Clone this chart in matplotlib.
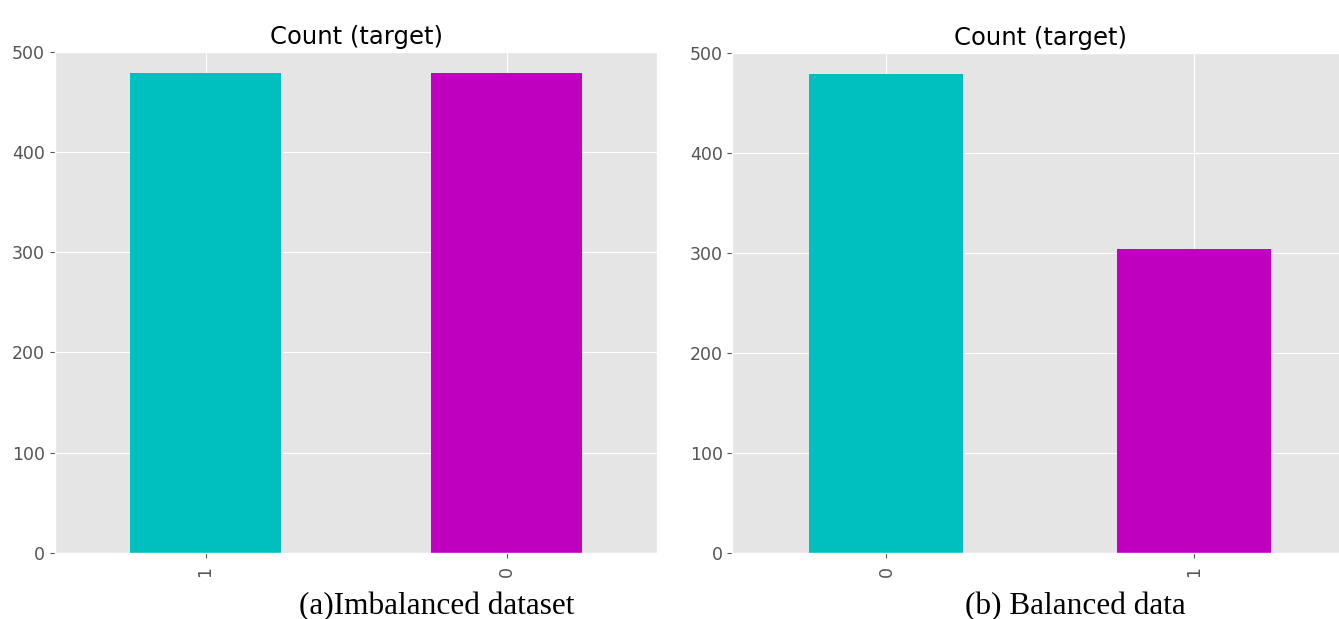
import matplotlib.pyplot as plt

plt.style.use("ggplot")

# left panel: "(a)Imbalanced dataset"
labels_a = ["1", "0"]
counts_a = [479, 479]

# right panel: "(b) Balanced data"
labels_b = ["0", "1"]
counts_b = [479, 304]

bar_colors = ["c", "m"]
yticks = [0, 100, 200, 300, 400, 500]


def draw(ax, labels, counts):
    ax.bar(range(len(labels)), counts, width=0.5, color=bar_colors)
    ax.set_xlim(-0.5, len(labels) - 0.5)
    ax.set_ylim(0, 500)
    ax.set_xticks(range(len(labels)))
    ax.set_xticklabels(labels, rotation=90)
    ax.set_yticks(yticks)
    ax.tick_params(labelsize=12.5, colors="#555555")
    ax.tick_params(axis="x", pad=6)
    ax.set_title("Count (target)", fontsize=17.5, color="black", pad=6)


fig = plt.figure(figsize=(13.39, 6.19), dpi=100)
fig.patch.set_facecolor("white")

ax1 = fig.add_axes([0.041, 0.107, 0.450, 0.809])
ax2 = fig.add_axes([0.547, 0.107, 0.460, 0.807])

draw(ax1, labels_a, counts_a)
draw(ax2, labels_b, counts_b)

fig.text(0.326, 0.008, "(a)Imbalanced dataset", ha="center",
         fontsize=22.5, family="Liberation Serif", color="black")
fig.text(0.803, 0.008, "(b) Balanced data", ha="center",
         fontsize=22.5, family="Liberation Serif", color="black")

fig.savefig("out.png", dpi=100)
